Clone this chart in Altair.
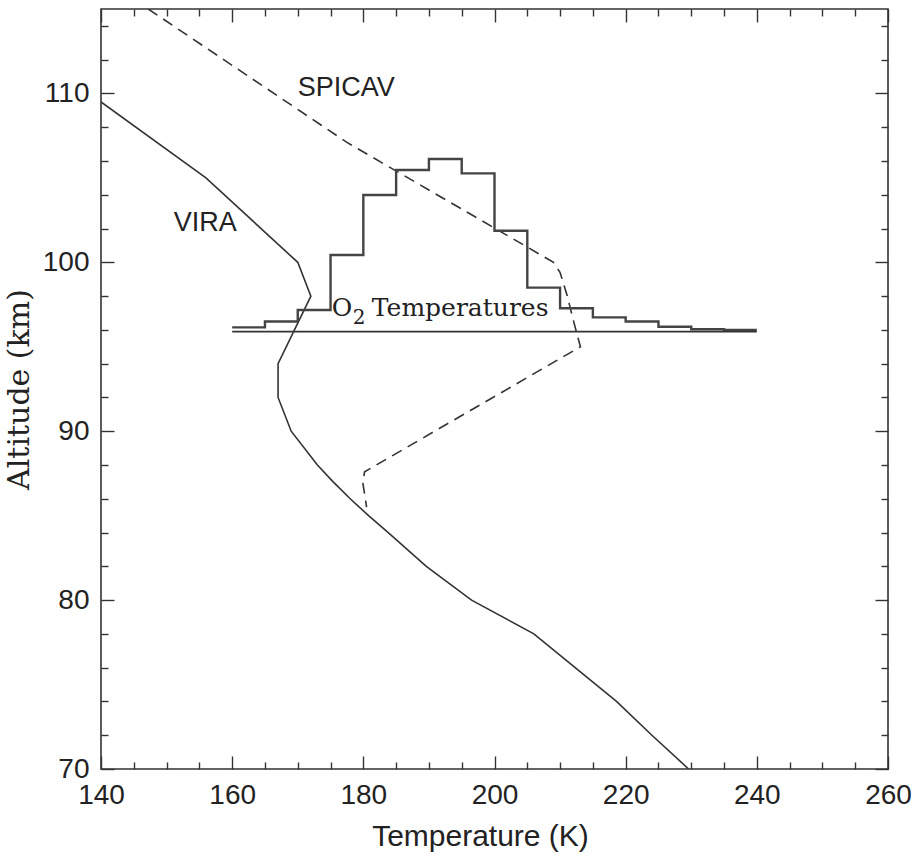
import altair as alt
import pandas as pd

# VIRA reference temperature profile (solid)
vira_alt = [109.5, 105, 100, 98, 96, 94, 92, 90, 88, 87, 86, 85, 84, 82, 80, 78, 76, 74, 72, 70]
vira_temp = [140, 156, 170, 172, 169.5, 167, 167, 169, 173, 175.4, 178, 180.8, 183.8,
             189.6, 196.5, 206, 212.3, 218.6, 224, 229.6]

# SPICAV temperature profile (dashed)
spicav_alt = [115, 107.1, 100, 99.4, 98, 96.6, 95, 87.6, 87, 85.5]
spicav_temp = [147.2, 177.5, 209, 210, 211.1, 212, 213.1, 180.2, 179.9, 180.5]

# O2 rotational temperature histogram: 5 K bins, drawn above a 95.9 km baseline
hist_lo = [160, 165, 170, 175, 180, 185, 190, 195, 200, 205, 210, 215, 220, 225, 230, 235]
hist_top = [96.15, 96.5, 97.18, 100.43, 103.99, 105.47, 106.12, 105.27, 101.87, 98.5,
            97.28, 96.74, 96.5, 96.19, 96.04, 96.0]
hist_hi_edge = 240
hist_base = 95.9

x_major = [140, 160, 180, 200, 220, 240, 260]
x_minor = [v for v in range(140, 261, 5) if v % 20 != 0]
y_major = [70, 80, 90, 100, 110]
y_minor = [v for v in range(70, 116, 2) if v % 10 != 0]

XDOM = [140, 260]
YDOM = [70, 115]
INK = "#333333"
SANS = "Liberation Sans"
SERIF = "DejaVu Serif"


def xs():
    return alt.Scale(domain=XDOM, nice=False, zero=False)


def ys():
    return alt.Scale(domain=YDOM, nice=False, zero=False)


def tick_axis(orient, values, size):
    return alt.Axis(orient=orient, values=values, labels=False, domain=False, grid=False,
                    ticks=True, tickSize=size, offset=-size, tickColor=INK, tickWidth=1.4,
                    title=None)


x_label_axis = alt.Axis(orient="bottom", values=x_major, ticks=False, tickSize=0,
                        domain=False, grid=False, labelFont=SANS, labelFontSize=28,
                        labelColor="#222222", labelPadding=12, labelFlush=False,
                        title="Temperature (K)", titleFont=SANS, titleFontSize=30,
                        titleFontWeight="normal", titleColor="#222222", titlePadding=12,
                        titleX=379)
y_label_axis = alt.Axis(orient="left", values=y_major, ticks=False, tickSize=0,
                        domain=False, grid=False, labelFont=SANS, labelFontSize=28,
                        labelColor="#222222", labelPadding=12, labelFlush=False,
                        title="Altitude (km)", titleFont=SERIF, titleFontSize=30,
                        titleFontWeight="normal", titleColor="#222222", titlePadding=8)

vira_df = pd.DataFrame({"T": vira_temp, "alt": vira_alt, "i": range(len(vira_alt))})
spicav_df = pd.DataFrame({"T": spicav_temp, "alt": spicav_alt, "i": range(len(spicav_alt))})
hist_df = pd.DataFrame({"T": hist_lo + [hist_hi_edge], "alt": hist_top + [hist_top[-1]]})
base_df = pd.DataFrame({"T": [hist_lo[0]], "T2": [hist_hi_edge], "alt": [hist_base]})

labels_df = pd.DataFrame({
    "text": ["SPICAV", "VIRA"],
    "T": [177.4, 155.9],
    "alt": [110.3, 102.3],
})
o2_df = pd.DataFrame({
    "text": ["O", "Temperatures"],
    "T": [175.2, 181.3],
    "alt": [96.82, 96.82],
})
o2_sub_df = pd.DataFrame({"text": ["2"], "T": [178.4], "alt": [96.35]})

vira = alt.Chart(vira_df).mark_line(color=INK, strokeWidth=1.6, clip=True).encode(
    x=alt.X("T:Q", scale=xs(), axis=x_label_axis),
    y=alt.Y("alt:Q", scale=ys(), axis=y_label_axis),
    order="i:Q",
)

spicav = alt.Chart(spicav_df).mark_line(color=INK, strokeWidth=1.6, strokeDash=[11, 7],
                                        clip=True).encode(
    x=alt.X("T:Q", scale=xs(), axis=tick_axis("bottom", x_major, 13)),
    y=alt.Y("alt:Q", scale=ys(), axis=tick_axis("left", y_major, 13)),
    order="i:Q",
)

hist = alt.Chart(hist_df).mark_line(color="#444444", strokeWidth=2.4,
                                    interpolate="step-after", clip=True).encode(
    x=alt.X("T:Q", scale=xs(), axis=tick_axis("bottom", x_minor, 7)),
    y=alt.Y("alt:Q", scale=ys(), axis=tick_axis("left", y_minor, 7)),
)

base = alt.Chart(base_df).mark_rule(color=INK, strokeWidth=1.6).encode(
    x=alt.X("T:Q", scale=xs(), axis=tick_axis("top", x_major, 13)),
    x2="T2:Q",
    y=alt.Y("alt:Q", scale=ys(), axis=tick_axis("right", y_major, 13)),
)

names = alt.Chart(labels_df).mark_text(font=SANS, fontSize=27, color="#222222",
                                       align="center", baseline="middle").encode(
    x=alt.X("T:Q", scale=xs(), axis=tick_axis("top", x_minor, 7)),
    y=alt.Y("alt:Q", scale=ys(), axis=tick_axis("right", y_minor, 7)),
    text="text:N",
)

o2 = alt.Chart(o2_df).mark_text(font=SERIF, fontSize=25, color="#222222",
                                align="left", baseline="alphabetic").encode(
    x=alt.X("T:Q", scale=xs(), axis=None),
    y=alt.Y("alt:Q", scale=ys(), axis=None),
    text="text:N",
)

o2_sub = alt.Chart(o2_sub_df).mark_text(font=SERIF, fontSize=20, color="#222222",
                                        align="left", baseline="alphabetic").encode(
    x=alt.X("T:Q", scale=xs(), axis=None),
    y=alt.Y("alt:Q", scale=ys(), axis=None),
    text="text:N",
)

chart = alt.layer(vira, spicav, hist, base, names, o2, o2_sub).resolve_scale(
    x="independent", y="independent"
).resolve_axis(
    x="independent", y="independent"
).properties(
    width=787, height=760,
    padding={"left": 101, "top": 9, "right": 29, "bottom": 94},
    autosize=alt.AutoSizeParams(type="none"),
    background="white",
).configure_view(stroke=INK, strokeWidth=1.6)

chart.save("out.html", embed_options={"renderer": "svg", "actions": False})
